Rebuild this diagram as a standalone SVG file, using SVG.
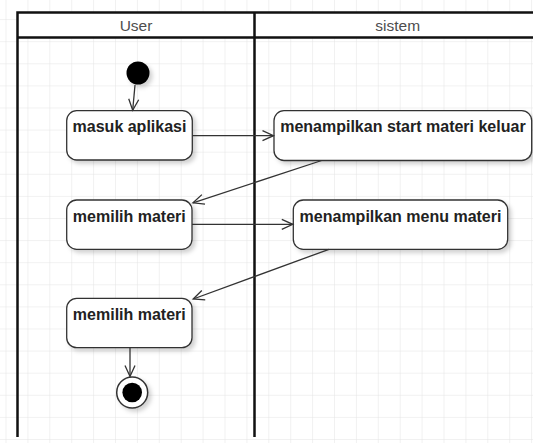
<svg xmlns="http://www.w3.org/2000/svg" width="533" height="443" viewBox="0 0 533 443">
<defs>
<pattern id="grid" x="5.5" y="19.1" width="21.9" height="22.1" patternUnits="userSpaceOnUse">
<path d="M 21.9 0 L 0 0 0 22.1" fill="none" stroke="#e3e3e3" stroke-width="1"/>
</pattern>
<filter id="shadow" x="-20%" y="-20%" width="150%" height="160%">
<feDropShadow dx="3" dy="3" stdDeviation="2" flood-color="#000" flood-opacity="0.18"/>
</filter>
<marker id="open" markerUnits="userSpaceOnUse" markerWidth="14" markerHeight="14" viewBox="-12 -7 14 14" refX="0" refY="0" orient="auto">
<path d="M -11 -5 L 0 0 L -11 5" fill="none" stroke="#333" stroke-width="1.3"/>
</marker>
<style>
.lane{fill:none;stroke:#111;stroke-width:2.5}
.head{font-family:"Liberation Sans",Arial,sans-serif;font-size:15.5px;fill:#4d4d4d;text-anchor:middle}
.box{fill:#fff;stroke:#333;stroke-width:1.3;filter:url(#shadow)}
.lbl{font-family:"Liberation Sans",Arial,sans-serif;font-size:16px;font-weight:bold;fill:#222;text-anchor:middle}
.conn{fill:none;stroke:#333;stroke-width:1.3;marker-end:url(#open)}
</style>
</defs>
<rect width="533" height="443" fill="#fff"/>
<rect width="533" height="443" fill="url(#grid)"/>
<g id="swimlanes">
<rect x="17.5" y="12.5" width="523.5" height="25" fill="#fff"/>
<path class="lane" d="M 17.5 437 L 17.5 12.5 L 541 12.5 M 17.5 37.5 L 541 37.5 M 254.5 12.5 L 254.5 437 M 541 12.5 L 541 437"/>
<text class="head" x="136" y="31">User</text>
<text class="head" x="397.7" y="31">sistem</text>
</g>
<g id="start">
<circle cx="138" cy="73" r="11.5" fill="#000" filter="url(#shadow)"/>
</g>
<g id="masuk-aplikasi">
<rect class="box" x="66.7" y="110.7" width="125.6" height="49.3" rx="10"/>
<text class="lbl" x="129.5" y="131.7">masuk aplikasi</text>
</g>
<g id="menampilkan-start">
<rect class="box" x="274" y="110.7" width="257.7" height="49.8" rx="10"/>
<text class="lbl" x="402.9" y="131.7">menampilkan start materi keluar</text>
</g>
<g id="memilih-materi-1">
<rect class="box" x="66.7" y="200" width="125.3" height="49.3" rx="10"/>
<text class="lbl" x="129.3" y="221.6">memilih materi</text>
</g>
<g id="menampilkan-menu">
<rect class="box" x="293.3" y="200" width="214.4" height="49.3" rx="10"/>
<text class="lbl" x="400.5" y="221.6">menampilkan menu materi</text>
</g>
<g id="memilih-materi-2">
<rect class="box" x="66.7" y="298.3" width="125.3" height="49.4" rx="10"/>
<text class="lbl" x="129.3" y="319.9">memilih materi</text>
</g>
<g id="end">
<circle cx="132.2" cy="392.5" r="15.5" fill="#fff" stroke="#333" stroke-width="1.5" filter="url(#shadow)"/>
<circle cx="132.2" cy="392.5" r="9.8" fill="#000"/>
</g>
<g id="connectors">
<path class="conn" d="M 135 85 L 132.7 110.2"/>
<path class="conn" d="M 192.3 135.7 L 273.5 135.7"/>
<path class="conn" d="M 321.7 160.5 L 193 202.8"/>
<path class="conn" d="M 192 224.3 L 292.8 224.3"/>
<path class="conn" d="M 329 249.3 L 193.2 299"/>
<path class="conn" d="M 130 347.7 L 130 376.5"/>
</g>
</svg>
